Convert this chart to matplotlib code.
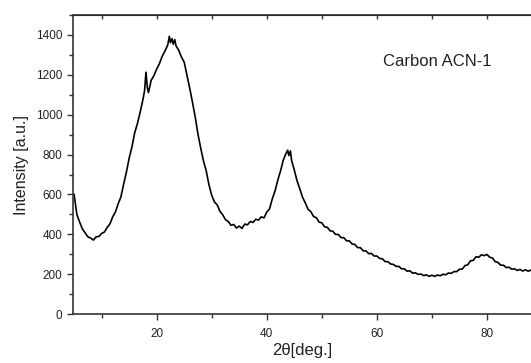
import numpy as np
import matplotlib
matplotlib.use("Agg")
import matplotlib.pyplot as plt
from matplotlib.ticker import MultipleLocator

# XRD pattern (2theta in deg, intensity in a.u.)
two_theta = [
    5.0, 5.5, 6.0, 6.5, 7.0, 7.5, 8.0, 8.5, 9.0, 9.5,
    10.0, 10.5, 11.0, 11.5, 12.0, 12.5, 13.0, 13.5, 14.0, 14.5,
    15.0, 15.5, 16.0, 16.5, 17.0, 17.5, 17.8, 18.05, 18.3, 18.5,
    19.0, 19.5, 20.0, 20.5, 21.0, 21.5, 22.0, 22.3, 22.5, 22.8,
    23.0, 23.3, 23.5, 24.0, 24.5, 25.0, 25.5, 26.0, 26.5, 27.0,
    27.5, 28.0, 28.5, 29.0, 29.5, 30.0, 30.5, 31.0, 31.5, 32.0,
    32.5, 33.0, 33.5, 34.0, 34.5, 35.0, 35.5, 36.0, 36.5, 37.0,
    37.5, 38.0, 38.5, 39.0, 39.5, 40.0, 40.5, 41.0, 41.5, 42.0,
    42.5, 43.0, 43.5, 43.8, 44.0, 44.3, 44.5, 45.0, 45.5, 46.0,
    46.5, 47.0, 47.5, 48.0, 48.5, 49.0, 49.5, 50.0, 50.5, 51.0,
    51.5, 52.0, 52.5, 53.0, 53.5, 54.0, 54.5, 55.0, 55.5, 56.0,
    56.5, 57.0, 57.5, 58.0, 58.5, 59.0, 59.5, 60.0, 60.5, 61.0,
    61.5, 62.0, 62.5, 63.0, 63.5, 64.0, 64.5, 65.0, 65.5, 66.0,
    66.5, 67.0, 67.5, 68.0, 68.5, 69.0, 69.5, 70.0, 70.5, 71.0,
    71.5, 72.0, 72.5, 73.0, 73.5, 74.0, 74.5, 75.0, 75.5, 76.0,
    76.5, 77.0, 77.5, 78.0, 78.5, 79.0, 79.5, 80.0, 80.5, 81.0,
    81.5, 82.0, 82.5, 83.0, 83.5, 84.0, 84.5, 85.0, 85.5, 86.0,
    86.5, 87.0, 87.5, 88.0,
]
intensity = [
    600, 500, 462, 428, 408, 388, 382, 372, 388, 390,
    405, 412, 435, 452, 488, 512, 553, 588, 652, 712,
    782, 838, 908, 955, 1012, 1075, 1120, 1212, 1135, 1110,
    1172, 1195, 1228, 1255, 1292, 1318, 1348, 1392, 1360, 1380,
    1352, 1375, 1345, 1322, 1288, 1262, 1198, 1132, 1062, 988,
    902, 832, 768, 718, 648, 596, 562, 548, 515, 498,
    474, 465, 446, 450, 432, 442, 430, 452, 448, 465,
    460, 476, 472, 488, 483, 512, 528, 578, 618, 672,
    718, 772, 806, 822, 795, 818, 772, 722, 668, 628,
    586, 558, 526, 514, 490, 484, 462, 458, 438, 436,
    418, 416, 400, 400, 384, 384, 368, 368, 352, 350,
    334, 334, 318, 318, 304, 305, 292, 292, 280, 278,
    264, 264, 252, 250, 240, 240, 228, 228, 216, 218,
    206, 208, 200, 202, 194, 198, 190, 196, 190, 197,
    193, 201, 198, 207, 205, 214, 214, 226, 226, 244,
    248, 268, 270, 288, 286, 298, 294, 300, 286, 282,
    264, 260, 246, 246, 234, 236, 226, 228, 220, 225,
    217, 223, 216, 222,
]

x_major = [20, 40, 60, 80]
y_major = [0, 200, 400, 600, 800, 1000, 1200, 1400]

plt.rcParams['font.family'] = ['Liberation Sans', 'DejaVu Sans']

fig = plt.figure(figsize=(5.31, 3.63), dpi=100)
ax = fig.add_axes([0.1375, 0.134, 0.8625, 0.8255])

ax.plot(two_theta, intensity, color="black", lw=1.2)

ax.set_xlim(4.8, 88.0)
ax.set_ylim(0, 1500)

ax.set_xticks(x_major)
ax.set_yticks(y_major)
ax.xaxis.set_minor_locator(MultipleLocator(10))
ax.yaxis.set_minor_locator(MultipleLocator(100))

ax.tick_params(axis="both", which="major", direction="out", length=4, width=1,
               color="#333333", labelsize=8.5, labelcolor="#222222")
ax.tick_params(axis="both", which="minor", direction="out", length=3, width=1,
               color="#333333")
ax.tick_params(axis="x", which="major", pad=6)

# top axis ticks point inside, every 10 degrees
ax_top = ax.secondary_xaxis("top")
ax_top.set_xticks(np.arange(10, 90, 10))
ax_top.tick_params(direction="in", length=3, width=1, color="#333333",
                   labeltop=False)

for side in ["left", "bottom", "top"]:
    ax.spines[side].set_color("#333333")
    ax.spines[side].set_linewidth(1.2)
ax.spines["right"].set_visible(False)

ax.set_ylabel("Intensity [a.u.]", fontsize=11.5, color="#222222", labelpad=5)
ax.set_xlabel("2\u03b8[deg.]", fontsize=12, color="#222222", labelpad=2)

ax.text(61.1, 1265, "Carbon ACN-1", fontsize=12, color="#222222", va="center")

fig.savefig("out.png", dpi=100)
